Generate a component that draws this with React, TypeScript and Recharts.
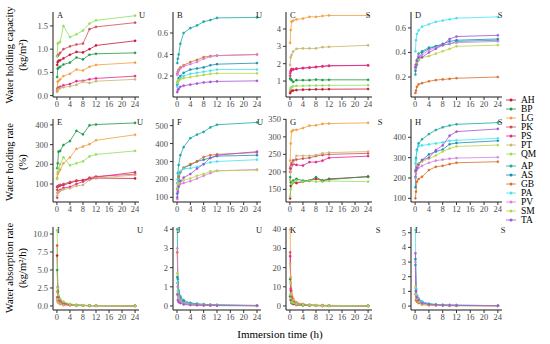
import React from 'react';
import { LineChart, Line, XAxis, YAxis } from 'recharts';

const TIMES = [0.083, 0.25, 0.5, 1, 2, 4, 6, 8, 10, 12, 24];
const X_TICKS = [0, 4, 8, 12, 16, 20, 24];
const GROUP1 = ['AH', 'BP', 'LG', 'PK', 'PS', 'PT', 'QM'];
const GROUP2 = ['AP', 'AS', 'GB', 'PA', 'PV', 'SM', 'TA'];

const COLORS: Record<string, string> = {
  AH: '#C8153A', BP: '#1E9A4A', LG: '#F2A03E', PK: '#D24B5C', PS: '#E6248A', PT: '#C9B56C', QM: '#90E05C',
  AP: '#1AA8A2', AS: '#1A8DB2', GB: '#D8702A', PA: '#44E2F0', PV: '#D580E0', SM: '#B7D446', TA: '#A452D8',
};

// Panel A: water holding capacity, U, group 1
const capA: Record<string, number[]> = {
  AH: [0.66, 0.72, 0.75, 0.76, 0.80, 0.88, 0.94, 0.93, 1.00, 1.08, 1.18],
  BP: [0.40, 0.58, 0.60, 0.62, 0.67, 0.71, 0.82, 0.78, 0.88, 0.90, 0.92],
  LG: [0.15, 0.30, 0.32, 0.35, 0.42, 0.47, 0.56, 0.54, 0.62, 0.66, 0.71],
  PK: [0.85, 0.86, 0.88, 0.92, 1.00, 1.06, 1.10, 1.12, 1.43, 1.48, 1.57],
  PS: [0.10, 0.15, 0.17, 0.19, 0.22, 0.25, 0.31, 0.32, 0.35, 0.37, 0.42],
  PT: [0.08, 0.12, 0.14, 0.16, 0.18, 0.20, 0.23, 0.30, 0.27, 0.31, 0.35],
  QM: [0.85, 1.12, 1.13, 1.16, 1.50, 1.26, 1.32, 1.40, 1.55, 1.62, 1.72],
};
// Panel B: capacity, U, group 2
const capB: Record<string, number[]> = {
  AP: [0.32, 0.36, 0.40, 0.50, 0.60, 0.645, 0.67, 0.705, 0.72, 0.74, 0.745],
  AS: [0.12, 0.15, 0.18, 0.20, 0.23, 0.26, 0.27, 0.28, 0.30, 0.31, 0.32],
  GB: [0.22, 0.24, 0.26, 0.28, 0.30, 0.33, 0.35, 0.375, 0.385, 0.39, 0.40],
  PA: [0.10, 0.13, 0.16, 0.18, 0.20, 0.22, 0.23, 0.24, 0.25, 0.26, 0.26],
  PV: [0.21, 0.23, 0.25, 0.27, 0.29, 0.31, 0.33, 0.36, 0.38, 0.39, 0.40],
  SM: [0.14, 0.15, 0.16, 0.17, 0.18, 0.19, 0.20, 0.21, 0.22, 0.225, 0.225],
  TA: [0.05, 0.07, 0.08, 0.10, 0.11, 0.12, 0.13, 0.14, 0.145, 0.15, 0.155],
};
// Panel C: capacity, S, group 1
const capC: Record<string, number[]> = {
  AH: [0.30, 0.40, 0.45, 0.45, 0.48, 0.50, 0.51, 0.52, 0.52, 0.53, 0.54],
  BP: [1.15, 1.10, 1.05, 0.95, 1.05, 1.05, 1.05, 1.08, 1.06, 1.07, 1.07],
  LG: [3.20, 3.94, 4.42, 4.48, 4.55, 4.60, 4.70, 4.70, 4.75, 4.78, 4.78],
  PK: [1.45, 1.60, 1.70, 1.68, 1.72, 1.75, 1.78, 1.82, 1.85, 1.88, 1.90],
  PS: [1.30, 1.55, 1.65, 1.66, 1.70, 1.74, 1.77, 1.80, 1.84, 1.88, 1.91],
  PT: [1.92, 2.36, 2.50, 2.70, 2.86, 2.88, 2.88, 2.88, 2.95, 2.97, 3.06],
  QM: [0.50, 0.60, 0.65, 0.70, 0.72, 0.72, 0.73, 0.74, 0.74, 0.75, 0.76],
};
// Panel D: capacity, S, group 2
const capD: Record<string, number[]> = {
  AP: [0.22, 0.30, 0.34, 0.39, 0.41, 0.44, 0.45, 0.46, 0.47, 0.49, 0.50],
  AS: [0.25, 0.28, 0.30, 0.34, 0.40, 0.43, 0.45, 0.47, 0.49, 0.50, 0.51],
  GB: [0.07, 0.09, 0.12, 0.14, 0.15, 0.165, 0.175, 0.18, 0.185, 0.19, 0.20],
  PA: [0.41, 0.50, 0.55, 0.58, 0.61, 0.63, 0.65, 0.66, 0.67, 0.68, 0.69],
  PV: [0.27, 0.30, 0.33, 0.37, 0.38, 0.42, 0.44, 0.46, 0.47, 0.48, 0.49],
  SM: [0.28, 0.30, 0.32, 0.34, 0.36, 0.37, 0.39, 0.41, 0.43, 0.45, 0.46],
  TA: [0.28, 0.30, 0.33, 0.36, 0.36, 0.40, 0.43, 0.46, 0.51, 0.53, 0.54],
};
// Panel E: water holding rate, U, group 1
const rateE: Record<string, number[]> = {
  AH: [85, 88, 90, 92, 95, 105, 115, 120, 125, 130, 128],
  BP: [180, 205, 264, 268, 298, 318, 370, 352, 398, 402, 410],
  LG: [130, 150, 160, 172, 205, 235, 278, 290, 302, 322, 350],
  PK: [70, 85, 90, 95, 100, 110, 118, 118, 132, 138, 150],
  PS: [30, 55, 62, 70, 80, 85, 100, 112, 125, 135, 160],
  PT: [40, 55, 60, 65, 72, 78, 90, 95, 120, 130, 145],
  QM: [125, 160, 180, 200, 235, 195, 205, 215, 240, 250, 268],
};
// Panel F: rate, U, group 2
const rateF: Record<string, number[]> = {
  AP: [145, 235, 280, 335, 380, 430, 450, 465, 490, 505, 518],
  AS: [120, 150, 200, 240, 265, 280, 300, 310, 320, 330, 335],
  GB: [180, 200, 215, 240, 265, 285, 300, 325, 335, 340, 350],
  PA: [180, 200, 230, 245, 260, 262, 270, 285, 295, 300, 310],
  PV: [90, 140, 160, 175, 180, 190, 205, 220, 235, 248, 255],
  SM: [150, 165, 180, 190, 195, 205, 220, 230, 245, 248, 252],
  TA: [100, 130, 160, 190, 210, 230, 260, 285, 320, 335, 355],
};
// Panel G: rate, S, group 1
const rateG: Record<string, number[]> = {
  AH: [124, 160, 165, 170, 168, 172, 175, 180, 175, 180, 186],
  BP: [185, 170, 165, 175, 180, 175, 175, 185, 175, 178, 187],
  LG: [232, 281, 315, 319, 320, 325, 332, 333, 337, 338, 340],
  PK: [210, 215, 225, 233, 235, 238, 240, 245, 248, 250, 253],
  PS: [200, 210, 220, 222, 220, 218, 228, 228, 232, 240, 245],
  PT: [177, 200, 215, 225, 246, 246, 246, 248, 253, 255, 258],
  QM: [130, 150, 165, 170, 175, 172, 175, 172, 172, 174, 172],
};
// Panel H: rate, S, group 2
const rateH: Record<string, number[]> = {
  AP: [206, 297, 338, 370, 390, 416, 436, 449, 458, 464, 472],
  AS: [154, 239, 260, 270, 288, 316, 330, 340, 366, 372, 383],
  GB: [100, 133, 182, 195, 206, 239, 255, 260, 268, 275, 280],
  PA: [272, 290, 334, 357, 360, 365, 370, 375, 383, 385, 395],
  PV: [200, 220, 240, 250, 260, 275, 285, 290, 295, 298, 302],
  SM: [230, 245, 260, 270, 280, 295, 310, 330, 345, 355, 362],
  TA: [234, 240, 250, 265, 288, 300, 337, 360, 408, 428, 441],
};
// Panel I: absorption rate, U, group 1
const absI: Record<string, number[]> = {
  AH: [7.0, 2.0, 1.0, 0.6, 0.3, 0.15, 0.1, 0.07, 0.05, 0.04, 0.02],
  BP: [5.0, 2.0, 1.2, 0.6, 0.35, 0.18, 0.12, 0.08, 0.06, 0.05, 0.03],
  LG: [2.0, 1.0, 0.8, 0.5, 0.3, 0.15, 0.1, 0.07, 0.06, 0.05, 0.03],
  PK: [8.4, 2.6, 1.2, 0.8, 0.4, 0.2, 0.12, 0.08, 0.06, 0.05, 0.02],
  PS: [1.2, 0.7, 0.5, 0.3, 0.15, 0.1, 0.06, 0.05, 0.04, 0.03, 0.02],
  PT: [1.0, 0.6, 0.4, 0.25, 0.12, 0.08, 0.05, 0.04, 0.03, 0.03, 0.02],
  QM: [10.5, 2.5, 1.5, 1.0, 0.6, 0.3, 0.15, 0.1, 0.08, 0.05, 0.02],
};
// Panel J: absorption rate, U, group 2
const absJ: Record<string, number[]> = {
  AP: [4.0, 1.4, 0.8, 0.5, 0.3, 0.16, 0.12, 0.09, 0.07, 0.06, 0.03],
  AS: [1.5, 1.2, 0.7, 0.4, 0.22, 0.12, 0.08, 0.06, 0.05, 0.04, 0.02],
  GB: [2.8, 1.0, 0.5, 0.3, 0.15, 0.08, 0.06, 0.05, 0.04, 0.03, 0.02],
  PA: [1.2, 0.8, 0.5, 0.3, 0.15, 0.08, 0.05, 0.04, 0.03, 0.03, 0.02],
  PV: [3.0, 1.0, 0.5, 0.3, 0.15, 0.08, 0.06, 0.05, 0.04, 0.03, 0.02],
  SM: [1.7, 0.7, 0.4, 0.2, 0.1, 0.05, 0.04, 0.03, 0.03, 0.02, 0.01],
  TA: [0.6, 0.3, 0.2, 0.15, 0.08, 0.05, 0.04, 0.03, 0.03, 0.02, 0.01],
};
// Panel K: absorption rate, S, group 1
const absK: Record<string, number[]> = {
  AH: [5, 3, 1.5, 1, 0.5, 0.3, 0.2, 0.15, 0.1, 0.1, 0.05],
  BP: [14, 5, 3, 2, 1, 0.5, 0.3, 0.2, 0.2, 0.1, 0.05],
  LG: [40, 15, 8, 4, 2, 1, 0.6, 0.4, 0.3, 0.3, 0.15],
  PK: [28, 9, 5, 3, 1.5, 0.8, 0.5, 0.3, 0.3, 0.2, 0.1],
  PS: [26, 8, 4, 2.5, 1.2, 0.7, 0.4, 0.3, 0.2, 0.2, 0.1],
  PT: [22, 12, 6, 3, 1.5, 1, 0.6, 0.4, 0.3, 0.3, 0.15],
  QM: [6, 4, 2, 1.5, 0.8, 0.4, 0.3, 0.2, 0.1, 0.1, 0.05],
};
// Panel L: absorption rate, S, group 2
const absL: Record<string, number[]> = {
  AP: [2.8, 1.1, 0.7, 0.5, 0.3, 0.15, 0.1, 0.07, 0.06, 0.05, 0.03],
  AS: [3.2, 1.2, 0.7, 0.45, 0.25, 0.14, 0.1, 0.07, 0.06, 0.05, 0.03],
  GB: [0.8, 0.4, 0.3, 0.2, 0.1, 0.05, 0.04, 0.03, 0.02, 0.02, 0.01],
  PA: [5.2, 1.2, 0.7, 0.5, 0.3, 0.15, 0.1, 0.08, 0.07, 0.06, 0.03],
  PV: [3.0, 1.0, 0.6, 0.4, 0.2, 0.1, 0.07, 0.05, 0.04, 0.04, 0.02],
  SM: [1.3, 0.8, 0.5, 0.3, 0.15, 0.08, 0.06, 0.05, 0.04, 0.03, 0.02],
  TA: [3.6, 1.0, 0.6, 0.4, 0.2, 0.12, 0.08, 0.06, 0.05, 0.04, 0.02],
};

const COLS = [
  { left: 53, w: 86 },
  { left: 173, w: 88 },
  { left: 286, w: 86 },
  { left: 411, w: 91 },
];
const ROWS = [
  { top: 12, h: 85 },
  { top: 119, h: 83 },
  { top: 227, h: 83 },
];

const f1 = (v: number) => v.toFixed(1);
const f0 = (v: number) => String(v);

type PanelCfg = {
  letter: string; tag: string; data: Record<string, number[]>; keys: string[];
  domain: [number, number]; ticks: number[]; fmt: (v: number) => string; col: number; row: number;
  tagX: number;
};

const PANELS: PanelCfg[] = [
  { letter: 'A', tag: 'U', data: capA, keys: GROUP1, domain: [-0.03, 1.8], ticks: [0, 0.5, 1, 1.5], fmt: f1, col: 0, row: 0, tagX: 142 },
  { letter: 'B', tag: 'U', data: capB, keys: GROUP2, domain: [0.005, 0.795], ticks: [0.2, 0.4, 0.6], fmt: f1, col: 1, row: 0, tagX: 259 },
  { letter: 'C', tag: 'S', data: capC, keys: GROUP1, domain: [0.08, 4.98], ticks: [1, 2, 3, 4], fmt: f0, col: 2, row: 0, tagX: 368 },
  { letter: 'D', tag: 'S', data: capD, keys: GROUP2, domain: [0.037, 0.73], ticks: [0.2, 0.4, 0.6], fmt: f1, col: 3, row: 0, tagX: 500 },
  { letter: 'E', tag: 'U', data: rateE, keys: GROUP1, domain: [8.5, 430], ticks: [100, 200, 300, 400], fmt: f0, col: 0, row: 1, tagX: 140 },
  { letter: 'F', tag: 'U', data: rateF, keys: GROUP2, domain: [74, 537], ticks: [100, 200, 300, 400, 500], fmt: f0, col: 1, row: 1, tagX: 260 },
  { letter: 'G', tag: 'S', data: rateG, keys: GROUP1, domain: [114, 351], ticks: [150, 200, 250, 300, 350], fmt: f0, col: 2, row: 1, tagX: 380 },
  { letter: 'H', tag: 'S', data: rateH, keys: GROUP2, domain: [82, 490], ticks: [100, 200, 300, 400], fmt: f0, col: 3, row: 1, tagX: 500 },
  { letter: 'I', tag: 'U', data: absI, keys: GROUP1, domain: [-0.56, 10.97], ticks: [0, 2.5, 5, 7.5, 10], fmt: f1, col: 0, row: 2, tagX: 140 },
  { letter: 'J', tag: 'U', data: absJ, keys: GROUP2, domain: [-0.21, 4.12], ticks: [0, 1, 2, 3, 4], fmt: f0, col: 1, row: 2, tagX: 259 },
  { letter: 'K', tag: 'S', data: absK, keys: GROUP1, domain: [-2.1, 41.2], ticks: [0, 10, 20, 30, 40], fmt: f0, col: 2, row: 2, tagX: 378 },
  { letter: 'L', tag: 'S', data: absL, keys: GROUP2, domain: [-0.27, 5.39], ticks: [0, 1, 2, 3, 4, 5], fmt: f0, col: 3, row: 2, tagX: 503 },
];

const FONT = '"Liberation Serif", "DejaVu Serif", serif';
const TICK_STYLE = { fontSize: 8.5, fill: '#4D4D4D', fontFamily: FONT };
const YW = 30;
const XH = 22;
const TOP_PAD = 6;

function Panel({ p }: { p: PanelCfg }) {
  const col = COLS[p.col];
  const row = ROWS[p.row];
  const table = TIMES.map((t, i) => {
    const r: Record<string, number> = { t };
    p.keys.forEach((k) => { r[k] = p.data[k][i]; });
    return r;
  });
  return (
    <div style={{ position: 'absolute', left: col.left - YW, top: row.top - TOP_PAD }}>
      <LineChart width={YW + col.w} height={row.h + XH + TOP_PAD} data={table} margin={{ top: TOP_PAD, right: 0, bottom: 0, left: 0 }}>
        <XAxis
          dataKey="t" type="number" domain={[-1.2, 25.2]} ticks={X_TICKS} interval={0} allowDataOverflow
          height={XH} tickSize={3} tickMargin={1}
          axisLine={{ stroke: '#1A1A1A', strokeWidth: 1 }} tickLine={{ stroke: '#333' }} tick={TICK_STYLE}
        />
        <YAxis
          type="number" domain={p.domain} ticks={p.ticks} interval={0} allowDataOverflow width={YW}
          tickSize={3} tickMargin={2} tickFormatter={p.fmt}
          axisLine={{ stroke: '#1A1A1A', strokeWidth: 1 }} tickLine={{ stroke: '#333' }} tick={TICK_STYLE}
        />
        {p.keys.map((k) => (
          <Line
            key={k} dataKey={k} type="linear" stroke={COLORS[k]} strokeWidth={0.8}
            dot={{ r: 1.1, fill: COLORS[k], stroke: COLORS[k], strokeWidth: 0.4 }}
            activeDot={false} isAnimationActive={false}
          />
        ))}
      </LineChart>
    </div>
  );
}

const LEGEND_KEYS = [...GROUP1, ...GROUP2];

function Overlay() {
  return (
    <svg width={550} height={344} style={{ position: 'absolute', left: 0, top: 0, pointerEvents: 'none' }} fontFamily={FONT}>
      {PANELS.map((p) => {
        const col = COLS[p.col];
        const row = ROWS[p.row];
        return (
          <g key={p.letter}>
            <text x={col.left + 4} y={row.top + 6} fontSize={8.5} fill="#1A1A1A">{p.letter}</text>
            <text x={p.tagX} y={row.top + 6} fontSize={8.5} fill="#1A1A1A" textAnchor="middle">{p.tag}</text>
          </g>
        );
      })}
      <text transform="translate(13,55) rotate(-90)" textAnchor="middle" fontSize={10.5} fill="#000">Water holding capacity</text>
      <text transform="translate(26,55) rotate(-90)" textAnchor="middle" fontSize={10.5} fill="#000">(kg/m²)</text>
      <text transform="translate(13,162) rotate(-90)" textAnchor="middle" fontSize={10.5} fill="#000">Water holding rate</text>
      <text transform="translate(26,162) rotate(-90)" textAnchor="middle" fontSize={10.5} fill="#000">(%)</text>
      <text transform="translate(13,268) rotate(-90)" textAnchor="middle" fontSize={10.5} fill="#000">Water absorption rate</text>
      <text transform="translate(26,268) rotate(-90)" textAnchor="middle" fontSize={10.5} fill="#000">(kg/m²/h)</text>
      <text x={280} y={338} textAnchor="middle" fontSize={11} fill="#000">Immersion time (h)</text>
      {LEGEND_KEYS.map((k, i) => {
        const y = 100 + i * 9 + (i >= 7 ? 3 : 0);
        return (
          <g key={k}>
            <line x1={506} x2={516} y1={y} y2={y} stroke={COLORS[k]} strokeWidth={0.8} />
            <circle cx={511} cy={y} r={1.5} fill={COLORS[k]} />
            <text x={521} y={y + 3.2} fontSize={9.5} fill="#000">{k}</text>
          </g>
        );
      })}
    </svg>
  );
}

export default function App() {
  return (
    <div style={{ position: 'absolute', left: 0, top: 0, width: 550, height: 344, background: '#fff', fontFamily: FONT, overflow: 'hidden' }}>
      {PANELS.map((p) => <Panel key={p.letter} p={p} />)}
      <Overlay />
    </div>
  );
}
